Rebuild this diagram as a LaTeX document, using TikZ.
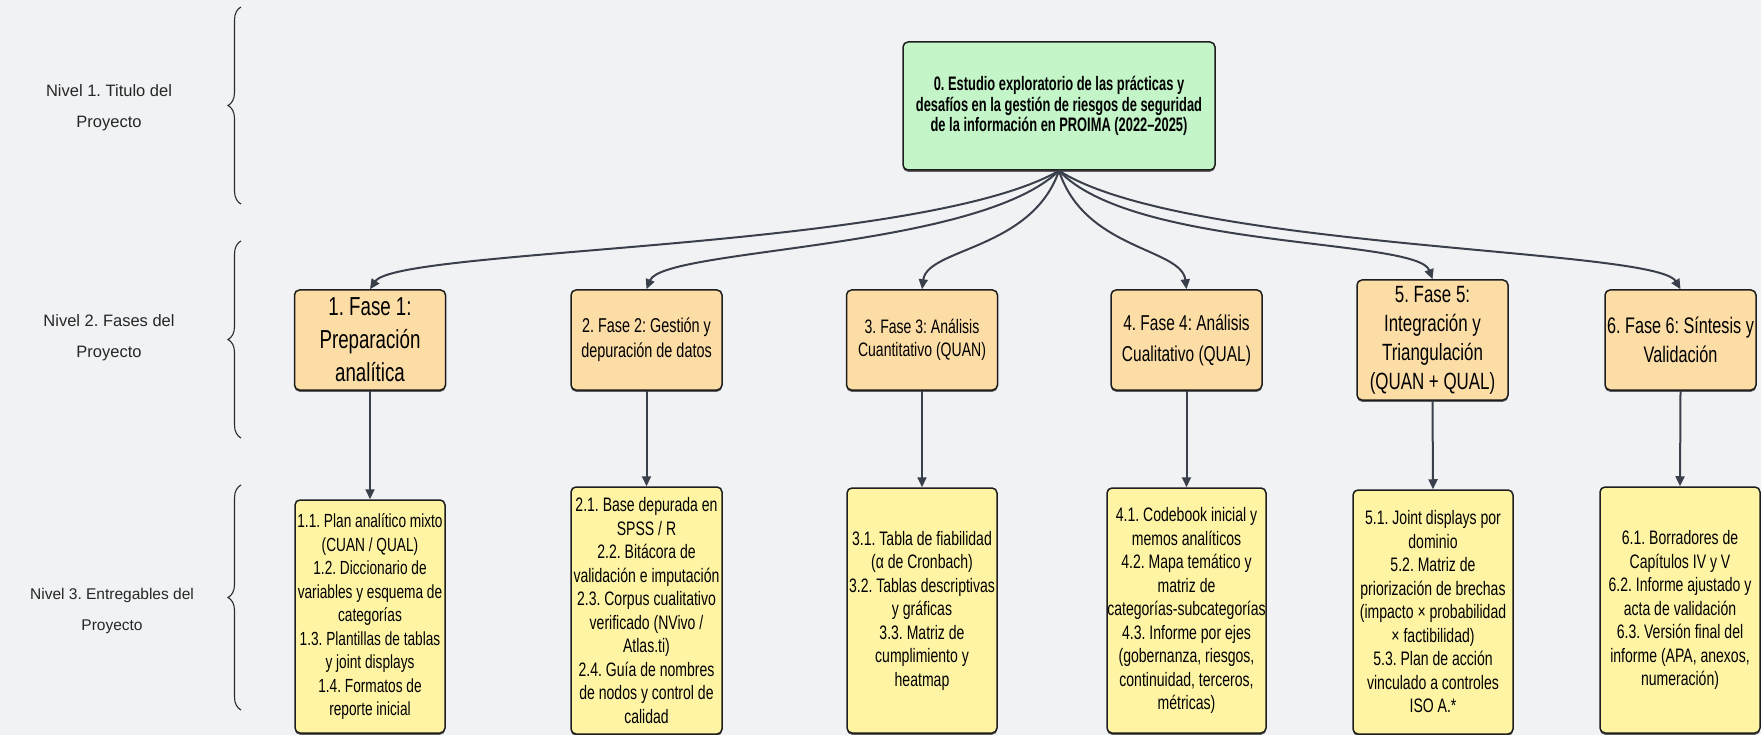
\documentclass[tikz,border=0pt]{standalone}
\usepackage{fontspec}
\setmainfont{Liberation Sans}
\newfontfamily\cnd[FakeStretch=0.72]{Liberation Sans}
\newfontfamily\cndb[FakeStretch=0.66]{Liberation Sans}
\usetikzlibrary{arrows.meta,decorations.pathreplacing,calc,shadows}
\frenchspacing

\definecolor{bg}{HTML}{F1F2F4}
\definecolor{titlefill}{HTML}{C3F5C8}
\definecolor{phasefill}{HTML}{FCDDA6}
\definecolor{itemfill}{HTML}{FEF4A4}
\definecolor{boxline}{HTML}{1E1E1E}
\definecolor{linkcol}{HTML}{3A404B}
\definecolor{bracecol}{HTML}{2A2A2A}

\tikzset{
  box/.style={draw=boxline, line width=1.5pt, rounded corners=5pt, align=center, inner sep=0pt, text=black,
    drop shadow={shadow xshift=0pt, shadow yshift=-1.8pt, opacity=0.6, fill=black}},
  titlebox/.style={box, fill=titlefill, minimum width=312pt, minimum height=128pt,
    font=\cndb\bfseries\fontsize{19.5}{20.5}\selectfont},
  phasebox/.style={box, fill=phasefill, minimum width=151pt, minimum height=100pt},
  itembox/.style={box, fill=itemfill, minimum width=150pt,
    font=\cnd\fontsize{19.5}{23.5}\selectfont},
  link/.style={draw=linkcol, line width=2pt, -{Triangle[length=10pt,width=9pt]}},
  lvl/.style={align=center, text=black!85, font=\fontsize{16.5}{31}\selectfont},
  brc/.style={draw=bracecol, line width=1.1pt, decorate, decoration={brace, amplitude=13pt}}
}

\begin{document}
\begin{tikzpicture}[x=1pt, y=-1pt]
  \fill[bg] (0,0) rectangle (1761,735);
  \useasboundingbox (0,0) rectangle (1761,735);

  % level labels and braces
  \node[lvl] (l1) at (109,108) {Nivel 1. Titulo del\\Proyecto};
  \node[lvl] (l2) at (109,338) {Nivel 2. Fases del\\Proyecto};
  \node[lvl, font=\fontsize{15.5}{31}\selectfont] (l3) at (112,611) {Nivel 3. Entregables del\\Proyecto};
  \coordinate (b1t) at (241,7);   \coordinate (b1b) at (241,204);
  \coordinate (b2t) at (241,241); \coordinate (b2b) at (241,438);
  \coordinate (b3t) at (241,485); \coordinate (b3b) at (241,710);
  \draw[brc] (b1b) -- (b1t);
  \draw[brc] (b2b) -- (b2t);
  \draw[brc] (b3b) -- (b3t);

  % title
  \node[titlebox] (t) at (1059,106) {0. Estudio exploratorio de las prácticas y\\desafíos en la gestión de riesgos de seguridad\\de la información en PROIMA (2022–2025)};

  % phases
  \node[phasebox, font=\cnd\fontsize{26}{33}\selectfont] (p1) at (370,340) {1. Fase 1:\\Preparación\\analítica};
  \node[phasebox, font=\cnd\fontsize{20}{25}\selectfont] (p2) at (646.5,340) {2. Fase 2: Gestión y\\depuración de datos};
  \node[phasebox, font=\cnd\fontsize{19.5}{23.5}\selectfont] (p3) at (922,340) {3. Fase 3: Análisis\\Cuantitativo (QUAN)};
  \node[phasebox, font=\cnd\fontsize{21.5}{31}\selectfont] (p4) at (1186.5,340) {4. Fase 4: Análisis\\Cualitativo (QUAL)};
  \node[phasebox, minimum height=120pt, font=\cnd\fontsize{23.5}{29}\selectfont] (p5) at (1432.5,340) {5. Fase 5:\\Integración y\\Triangulación\\(QUAN + QUAL)};
  \node[phasebox, font=\cnd\fontsize{22.5}{29}\selectfont] (p6) at (1680.5,340) {6. Fase 6: Síntesis y\\Validación};

  % deliverables
  \node[itembox, minimum height=233pt, font=\cnd\fontsize{19}{23.5}\selectfont] (d1) at (370,616.5) {1.1. Plan analítico mixto\\(CUAN / QUAL)\\1.2. Diccionario de\\variables y esquema de\\categorías\\1.3. Plantillas de tablas\\y joint displays\\1.4. Formatos de\\reporte inicial};
  \node[itembox, minimum width=151pt, minimum height=247pt] (d2) at (646.5,610.5) {2.1. Base depurada en\\SPSS / R\\2.2. Bitácora de\\validación e imputación\\2.3. Corpus cualitativo\\verificado (NVivo /\\Atlas.ti)\\2.4. Guía de nombres\\de nodos y control de\\calidad};
  \node[itembox, minimum height=245pt] (d3) at (922,610.5) {3.1. Tabla de fiabilidad\\(α de Cronbach)\\3.2. Tablas descriptivas\\y gráficas\\3.3. Matriz de\\cumplimiento y\\heatmap};
  \node[itembox, minimum width=159pt, minimum height=245pt] (d4) at (1186.5,610.5) {4.1. Codebook inicial y\\memos analíticos\\4.2. Mapa temático y\\matriz de\\categorías-subcategorías\\4.3. Informe por ejes\\(gobernanza, riesgos,\\continuidad, terceros,\\métricas)};
  \node[itembox, minimum width=160pt, minimum height=244pt] (d5) at (1433,612) {5.1. Joint displays por\\dominio\\5.2. Matriz de\\priorización de brechas\\(impacto × probabilidad\\× factibilidad)\\5.3. Plan de acción\\vinculado a controles\\ISO A.*};
  \node[itembox, minimum width=160pt, minimum height=246pt] (d6) at (1680,610) {6.1. Borradores de\\Capítulos IV y V\\6.2. Informe ajustado y\\acta de validación\\6.3. Versión final del\\informe (APA, anexos,\\numeración)};

  % title to phases: curves fan out from the title and bend down onto each phase
  \foreach \p/\xe/\ye in {p1/370/290, p2/646.5/290, p3/922/290, p4/1186.5/290, p5/1432.5/280, p6/1680.5/290}{
    \pgfmathsetmacro\ca{1059+0.2*(\xe-1059)}
    \pgfmathsetmacro\cb{\xe-0.04*(\xe-1059)}
    \pgfmathsetmacro\cy{\ye-42}
    \draw[link] (t.south) .. controls (\ca,250) and (\cb,\cy) .. (\p.north);
  }
  % phases to deliverables
  \foreach \i in {1,...,6}{
    \draw[link] (p\i.south) -- (d\i.north);
  }
\end{tikzpicture}
\end{document}
